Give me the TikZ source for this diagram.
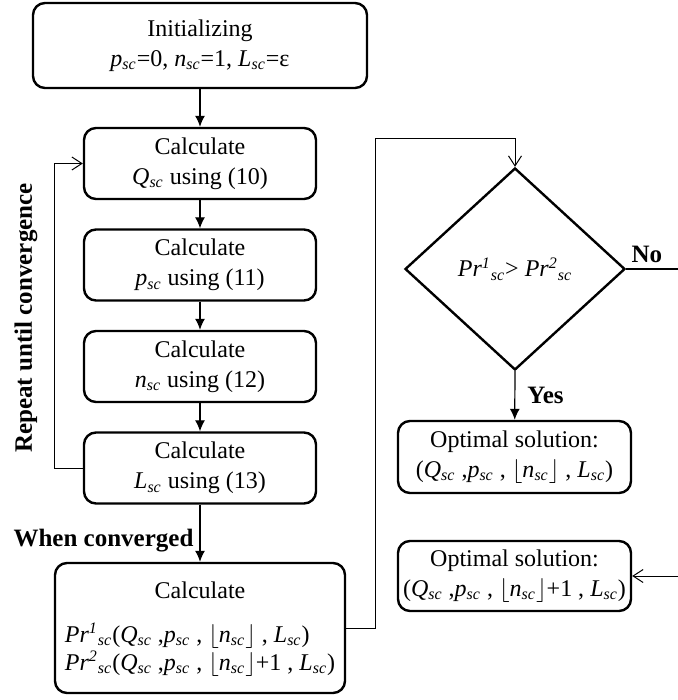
\documentclass[tikz,border=0pt]{standalone}
\usepackage{fontspec}
\setmainfont{Liberation Serif}
\usetikzlibrary{arrows.meta,shapes.geometric}

\newcommand{\vsc}[1]{\textit{#1}\textsubscript{\textit{sc}}}
\newcommand{\prsc}[1]{\textit{Pr}\textsuperscript{\textit{#1}}\textsubscript{\textit{sc}}}
\newcommand{\flr}[1]{$\lfloor$#1$\rfloor$}

\begin{document}
\begin{tikzpicture}[x=0.5pt, y=-0.5pt,
  box/.style={draw, line width=1.2pt, rounded corners=6pt, align=center, inner sep=0pt,
    font=\fontsize{12}{15}\selectfont},
  decision/.style={draw, diamond, line width=1.2pt, inner sep=0pt, minimum width=110pt,
    minimum height=101pt, font=\fontsize{12}{15}\selectfont},
  flow/.style={-{Latex[length=5.5pt,width=5pt]}, line width=0.6pt},
  back/.style={-{Straight Barb[length=5pt,width=6.5pt]}, line width=0.5pt},
  lbl/.style={font=\bfseries\fontsize{12.5}{15}\selectfont}]
\useasboundingbox (0,0) rectangle (678,700);

% loop part
\node[box, minimum width=167pt, minimum height=42.5pt] (init) at (200,45.5)
  {Initializing\\ \vsc{p}=0, \vsc{n}=1, \vsc{L}=ε};
\node[box, minimum width=116pt, minimum height=35.5pt] (Q) at (200,163.5) {Calculate\\ \vsc{Q} using (10)};
\node[box, minimum width=116pt, minimum height=35.5pt] (P) at (200,265) {Calculate\\ \vsc{p} using (11)};
\node[box, minimum width=116pt, minimum height=35.5pt] (N) at (200,366.5) {Calculate\\ \vsc{n} using (12)};
\node[box, minimum width=116pt, minimum height=35.5pt] (L) at (200,468) {Calculate\\ \vsc{L} using (13)};
\node[box, minimum width=145pt, minimum height=65pt] (calc) at (200,628)
  {\begin{tabular}{@{}l@{}}
   \multicolumn{1}{@{}c@{}}{Calculate}\\[7pt]
   \prsc{1}(\vsc{Q} ,\vsc{p} , \flr{\vsc{n}} , \vsc{L})\\[-1pt]
   \prsc{2}(\vsc{Q} ,\vsc{p} , \flr{\vsc{n}}+1 , \vsc{L})
   \end{tabular}};
\node[lbl, rotate=90] (rep) at (26,318) {Repeat until convergence};

% decision part
\node[decision] (dec) at (515,269) {\prsc{1}> \prsc{2}};
\node[box, minimum width=116.5pt, minimum height=36pt] (opt1) at (514.5,457)
  {Optimal solution:\\ (\vsc{Q} ,\vsc{p} , \flr{\vsc{n}} , \vsc{L})};
\node[box, minimum width=116.5pt, minimum height=35pt] (opt2) at (514.5,576)
  {Optimal solution:\\ (\vsc{Q} ,\vsc{p} , \flr{\vsc{n}}+1 , \vsc{L})};

\coordinate (loopL) at (54,468);
\coordinate (bend) at (375,139);
\coordinate (noend) at (678,269);
\coordinate (in2) at (678,576);

\draw[flow] (init) -- (Q);
\draw[flow] (Q) -- (P);
\draw[flow] (P) -- (N);
\draw[flow] (N) -- (L);
\draw[flow] (L) -- node[lbl, pos=0.62, left, inner sep=3pt] (conv) {When converged} (calc);
\draw[back] (L.west) -- (loopL) |- (Q.west);
\draw[back] (calc.east) -| (bend) -| (dec.north);
\draw[line width=0.6pt] (dec.east) -- node[lbl, above, pos=0.4, inner sep=3pt] (no) {No} (noend);
\draw[flow] (dec.south) -- node[lbl, right, pos=0.5, inner sep=6pt] (yes) {Yes} (opt1);
\draw[back] (in2) -- (opt2.east);
\end{tikzpicture}
\end{document}
